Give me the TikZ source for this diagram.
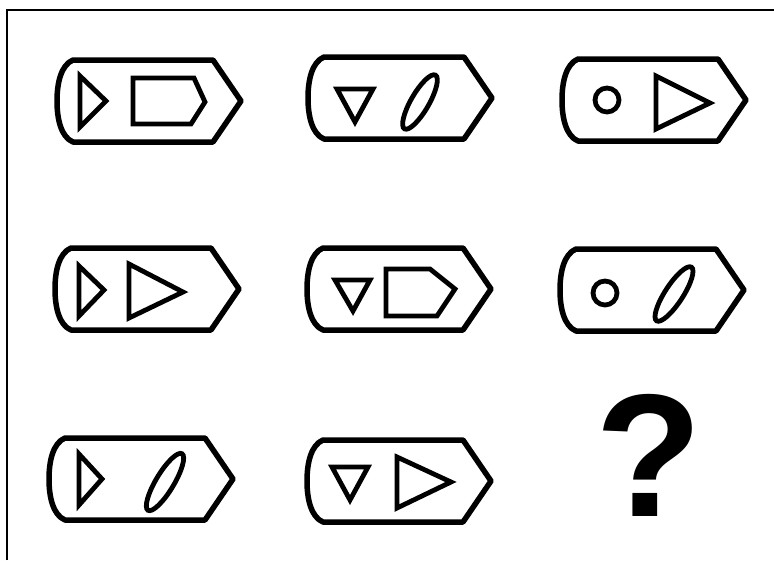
\documentclass[tikz,border=0pt]{standalone}
\usepackage{fontspec}
\setsansfont{Liberation Sans}
\begin{document}
\begin{tikzpicture}[x=1pt,y=-1pt,
  tileline/.style={line width=5.5pt,line join=round},
  figline/.style={line width=4.8pt,line join=miter},
  frameline/.style={line width=2.2pt}]
\useasboundingbox (0,0) rectangle (774,560);
\fill[white] (0,0) rectangle (774,560);
% frame (top and left only)
\draw[frameline] (7,560) -- (7,10) -- (774,10);
% tile outlines
\foreach \x/\y in {57/101,308/98,562/100,55/289,307/289,560/290,49/479,307/481}{
  \draw[tileline,shift={(\x,\y)}] (16,-41) .. controls (4,-36) and (0,-18) .. (0,0)
     .. controls (0,18) and (4,36) .. (16,41) -- (156,41) -- (184,0) -- (156,-41) -- cycle;
}
% row 1
\draw[figline] (80,76) -- (80,127) -- (106,101) -- cycle;
\draw[figline] (133,78) -- (194,78) -- (205,102) -- (191,124) -- (133,124) -- cycle;
\draw[figline] (337,89) -- (373,89) -- (355,122) -- cycle;
\draw[figline,rotate around={60:(420,102)}] (420,102) ellipse [x radius=31pt, y radius=9pt];
\draw[figline] (607,100) circle [radius=12pt];
\draw[figline] (656,76) -- (656,129) -- (710,103) -- cycle;
% row 2
\draw[figline] (79,266) -- (79,316) -- (104,290) -- cycle;
\draw[figline] (129,264) -- (129,318) -- (183,292) -- cycle;
\draw[figline] (335,280) -- (370,280) -- (353,311) -- cycle;
\draw[figline] (386,269) -- (430,269) -- (455,289) -- (437,316) -- (386,316) -- cycle;
\draw[figline] (605,293) circle [radius=12pt];
\draw[figline,rotate around={57:(674,294)}] (674,294) ellipse [x radius=32pt, y radius=9pt];
% row 3
\draw[figline] (79,454) -- (79,505) -- (102,479) -- cycle;
\draw[figline,rotate around={59:(165,482)}] (165,482) ellipse [x radius=33pt, y radius=9pt];
\draw[figline] (332,467) -- (368,467) -- (350,500) -- cycle;
\draw[figline] (397,457) -- (397,508) -- (451,482) -- cycle;
\node[inner sep=0pt,font=\sffamily\bfseries\fontsize{175}{175}\selectfont] (q) at (649,455) {?};
\end{tikzpicture}
\end{document}
